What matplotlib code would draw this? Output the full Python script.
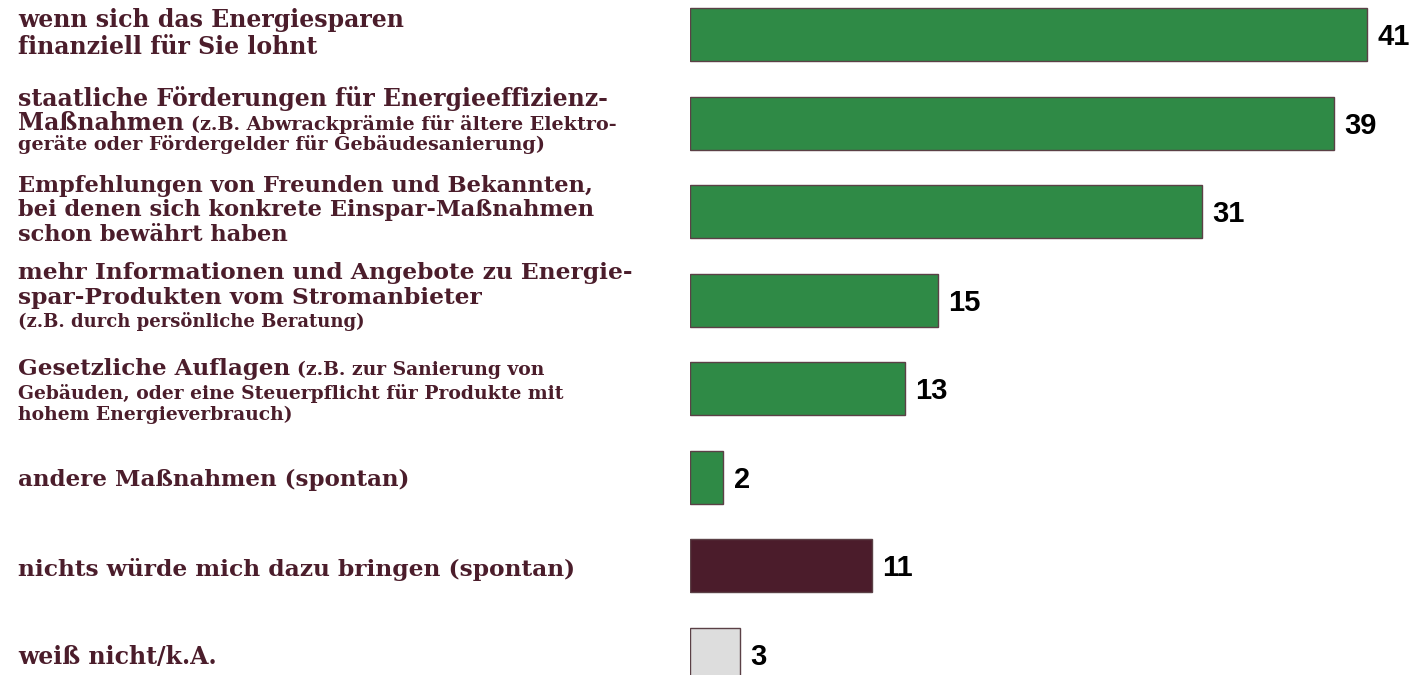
import matplotlib
matplotlib.use("Agg")
import matplotlib.pyplot as plt

# ---------------- data ----------------
# each category: list of lines, each line = (large part, small part)
category_lines = [
    [("wenn sich das Energiesparen", ""), ("finanziell für Sie lohnt", "")],
    [("staatliche Förderungen für Energieeffizienz-", ""),
     ("Maßnahmen", "(z.B. Abwrackprämie für ältere Elektro-"),
     ("", "geräte oder Fördergelder für Gebäudesanierung)")],
    [("Empfehlungen von Freunden und Bekannten,", ""),
     ("bei denen sich konkrete Einspar-Maßnahmen", ""),
     ("schon bewährt haben", "")],
    [("mehr Informationen und Angebote zu Energie-", ""),
     ("spar-Produkten vom Stromanbieter", ""),
     ("", "(z.B. durch persönliche Beratung)")],
    [("Gesetzliche Auflagen", "(z.B. zur Sanierung von"),
     ("", "Gebäuden, oder eine Steuerpflicht für Produkte mit"),
     ("", "hohem Energieverbrauch)")],
    [("andere Maßnahmen (spontan)", "")],
    [("nichts würde mich dazu bringen (spontan)", "")],
    [("weiß nicht/k.A.", "")],
]
values = [41, 39, 31, 15, 13, 2, 11, 3]
value_labels = ["41", "39", "31", "15", "13", "2", "11", "3"]
bar_kinds = ["pos", "pos", "pos", "pos", "pos", "pos", "none", "dk"]

# ---------------- style / layout ----------------
W, H, DPI = 1412, 675, 100
kind_colors = {"pos": "#2f8a46", "none": "#4b1c2b", "dk": "#dddddd"}
edge_color = "#5b4046"
text_color = "#4b1d2b"
serif = ["DejaVu Serif"]
val_font = ["Liberation Sans", "DejaVu Sans"]
val_size = 21

# (large size, small size) per category label
label_sizes = [
    (17.0, 14.0),
    (17.0, 13.8),
    (16.2, 14.0),
    (16.8, 13.0),
    (16.6, 13.5),
    (16.6, 14.0),
    (16.8, 14.0),
    (17.0, 14.0),
]

# baseline offsets (pixels below bar centre) for every text line
line_offsets = [
    [-7.7, 19.3],
    [-17.2, 7.3, 27.3],
    [-20.2, 4.3, 29.0],
    [-21.2, 3.8, 26.3],
    [-13.7, 10.3, 31.3],
    [8.8],
    [10.3],
    [9.8],
]
label_x_px = 18
px_per_unit = 16.5
bar_left_px = 690
first_center_px = 34.7
step_px = 88.5

fig = plt.figure(figsize=(W / DPI, H / DPI), dpi=DPI)
fig.patch.set_facecolor("white")
ax = fig.add_axes([bar_left_px / W, 0, (W - bar_left_px) / W, 1])
ax.set_xlim(0, (W - bar_left_px) / px_per_unit)
ax.set_ylim((H - first_center_px) / step_px, -first_center_px / step_px)
ax.axis("off")

ypos = list(range(len(values)))
ax.barh(ypos, values, height=0.6, left=0,
        color=[kind_colors[k] for k in bar_kinds],
        edgecolor=edge_color, linewidth=1.0)

# value labels
for i, (v, lab) in enumerate(zip(values, value_labels)):
    ax.annotate(lab, xy=(v, i), xycoords="data",
                xytext=(11, -10.5), textcoords="offset pixels",
                ha="left", va="baseline", fontsize=val_size,
                fontweight="bold", family=val_font, color="black")

# category labels
trans = (fig.transFigure, ax.transData)
pending = []
for i, lines in enumerate(category_lines):
    big_size, small_size = label_sizes[i]
    for (big, small), off in zip(lines, line_offsets[i]):
        if big:
            t = ax.annotate(big, xy=(label_x_px / W, i), xycoords=trans,
                            xytext=(0, -off), textcoords="offset pixels",
                            ha="left", va="baseline", fontsize=big_size,
                            fontweight="bold", family=serif, color=text_color,
                            annotation_clip=False)
            if small:
                pending.append((t, small, i, off, small_size))
        elif small:
            ax.annotate(small, xy=(label_x_px / W, i), xycoords=trans,
                        xytext=(0, -off), textcoords="offset pixels",
                        ha="left", va="baseline", fontsize=small_size,
                        fontweight="bold", family=serif, color=text_color,
                        annotation_clip=False)

fig.canvas.draw()
renderer = fig.canvas.get_renderer()
for t, small, i, off, small_size in pending:
    bb = t.get_window_extent(renderer)
    x_px = bb.x1 + 7
    ax.annotate(small, xy=(x_px / W, i), xycoords=trans,
                xytext=(0, -off), textcoords="offset pixels",
                ha="left", va="baseline", fontsize=small_size,
                fontweight="bold", family=serif, color=text_color,
                annotation_clip=False)

fig.savefig("out.png", dpi=DPI, facecolor="white")
